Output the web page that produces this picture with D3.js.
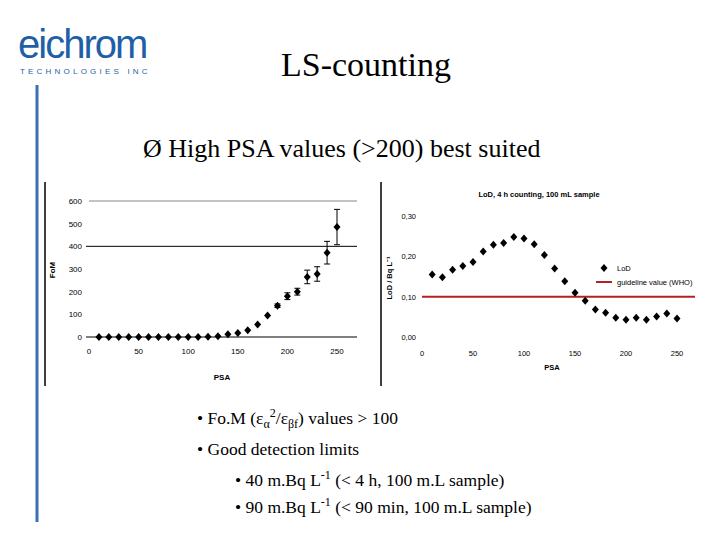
<!DOCTYPE html><html><head><script src="https://cdn.jsdelivr.net/npm/d3@7"></script>
<style>body{margin:0;background:#fff}svg{display:block}</style></head><body><svg id="s" width="720" height="540"></svg>
<script>
const psa=[10,20,30,40,50,60,70,80,90,100,110,120,130,140,150,160,170,180,190,200,210,220,230,240,250];
const fom=[0,0,0,0,0,0,0,0,0,0,0,1,3,12,18,30,55,95,138,180,200,265,278,372,485];
const fomErr=[0,0,0,0,0,0,0,0,0,0,0,0,0,0,0,0,0,0,8,15,15,30,32,50,78];
const lod=[0.155,0.148,0.167,0.176,0.186,0.212,0.229,0.233,0.248,0.244,0.230,0.203,0.170,0.138,0.110,0.090,0.068,0.060,0.048,0.043,0.048,0.043,0.051,0.058,0.046];
const guideline=0.10;
const fomTicks=[0,100,200,300,400,500,600];
const lodTicks=[0,0.1,0.2,0.3];
const xTicks=[0,50,100,150,200,250];
const svg=d3.select("#s");
const times="'Liberation Serif','Times New Roman',serif", sans="'Liberation Sans',Arial,sans-serif";
svg.append("text").attr("x",18).attr("y",58).attr("font-family",sans).attr("font-size",40).attr("fill","#1f5fa8").attr("letter-spacing",-2).text("eichrom");
svg.append("text").attr("x",20).attr("y",74).attr("font-family",sans).attr("font-size",8).attr("fill","#1f5fa8").attr("letter-spacing",3.2).text("TECHNOLOGIES  INC");
svg.append("line").attr("x1",37).attr("x2",37).attr("y1",85).attr("y2",522).attr("stroke","#3a6fb0").attr("stroke-width",3);
svg.append("text").attr("x",366).attr("y",76).attr("text-anchor","middle").attr("font-family",times).attr("font-size",34).text("LS-counting");
svg.append("text").attr("x",143).attr("y",157).attr("font-family",times).attr("font-size",26).text("Ø High PSA values (>200) best suited");
const b=svg.append("g").attr("font-family",times).attr("font-size",17.5);
let t=b.append("text").attr("x",197).attr("y",424);
t.append("tspan").text("• Fo.M (ε");t.append("tspan").attr("font-size",12).attr("dy",4).text("α");
t.append("tspan").attr("font-size",12).attr("dy",-11).text("2");t.append("tspan").attr("dy",7).text("/ε");
t.append("tspan").attr("font-size",12).attr("dy",4).text("βf");t.append("tspan").attr("dy",-4).text(") values > 100");
b.append("text").attr("x",197).attr("y",455).text("• Good detection limits");
[["• 40 m.Bq L","-1"," (< 4 h, 100 m.L sample)",486],["• 90 m.Bq L","-1"," (< 90 min, 100 m.L sample)",513]].forEach(r=>{
 const tt=b.append("text").attr("x",235).attr("y",r[3]);tt.append("tspan").text(r[0]);
 tt.append("tspan").attr("font-size",12).attr("dy",-7).text(r[1]);tt.append("tspan").attr("dy",7).text(r[2]);});
const diamond="M0,-4L3.5,0L0,4L-3.5,0Z";
svg.append("line").attr("x1",45).attr("x2",45).attr("y1",182).attr("y2",386).attr("stroke","#000").attr("stroke-width",1.5);
const x1=d3.scaleLinear().domain([0,250]).range([89,337]);
const y1=d3.scaleLinear().domain([0,600]).range([337,201]);
const L=svg.append("g").attr("font-family",sans).attr("font-size",8);
L.append("line").attr("x1",89).attr("x2",357).attr("y1",y1(600)).attr("y2",y1(600)).attr("stroke","#888");
[0,400].forEach(v=>L.append("line").attr("x1",86).attr("x2",357).attr("y1",y1(v)).attr("y2",y1(v)).attr("stroke","#000"));
fomTicks.forEach(v=>L.append("text").attr("x",82).attr("y",y1(v)+3).attr("text-anchor","end").text(v));
xTicks.forEach(v=>L.append("text").attr("x",x1(v)).attr("y",354).attr("text-anchor","middle").text(v));
L.append("text").attr("x",222).attr("y",380).attr("text-anchor","middle").attr("font-weight","bold").text("PSA");
L.append("text").attr("transform","translate(55,270) rotate(-90)").attr("text-anchor","middle").attr("font-weight","bold").text("FoM");
psa.forEach((p,i)=>{ if(fomErr[i]>0){const e=[fom[i]-fomErr[i],fom[i]+fomErr[i]],cx=x1(p);
 L.append("path").attr("d",`M${cx},${y1(e[0])}V${y1(e[1])}M${cx-3},${y1(e[0])}h6M${cx-3},${y1(e[1])}h6`).attr("stroke","#000").attr("fill","none");}
 L.append("path").attr("d",diamond).attr("transform",`translate(${x1(p)},${y1(fom[i])})`);});
svg.append("line").attr("x1",381).attr("x2",381).attr("y1",182).attr("y2",386).attr("stroke","#000").attr("stroke-width",1.5);
const x2=d3.scaleLinear().domain([0,250]).range([422,677]);
const y2=d3.scaleLinear().domain([0,0.3]).range([337,216]);
const R=svg.append("g").attr("font-family",sans).attr("font-size",7.5);
R.append("text").attr("x",539).attr("y",197).attr("text-anchor","middle").attr("font-weight","bold").text("LoD, 4 h counting, 100 mL sample");
lodTicks.forEach(v=>R.append("text").attr("x",416).attr("y",y2(v)+3).attr("text-anchor","end").text(d3.format(".2f")(v).replace(".",",")));
xTicks.forEach(v=>R.append("text").attr("x",x2(v)).attr("y",356).attr("text-anchor","middle").text(v));
R.append("text").attr("x",552).attr("y",370).attr("text-anchor","middle").attr("font-weight","bold").text("PSA");
R.append("text").attr("transform","translate(392,278) rotate(-90)").attr("text-anchor","middle").attr("font-weight","bold").text("LoD / Bq L⁻¹");
R.append("line").attr("x1",422).attr("x2",695).attr("y1",y2(guideline)).attr("y2",y2(guideline)).attr("stroke","#b22222").attr("stroke-width",2);
psa.forEach((p,i)=>R.append("path").attr("d",diamond).attr("transform",`translate(${x2(p)},${y2(lod[i])})`));
R.append("path").attr("d",diamond).attr("transform","translate(604,268)");
R.append("text").attr("x",617).attr("y",271).text("LoD");
R.append("line").attr("x1",596).attr("x2",612).attr("y1",282).attr("y2",282).attr("stroke","#b22222").attr("stroke-width",2);
R.append("text").attr("x",617).attr("y",285).text("guideline value (WHO)");
</script></body></html>
